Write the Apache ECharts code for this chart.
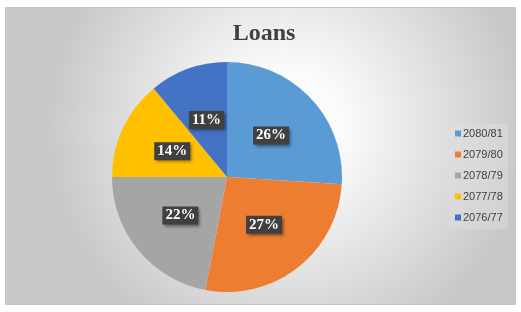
<!DOCTYPE html>
<html>
<head>
<meta charset="utf-8">
<script src="https://cdn.jsdelivr.net/npm/echarts@6/dist/echarts.min.js"></script>
<style>
html,body{margin:0;padding:0;background:#fff;}
#c{width:521px;height:312px;}
</style>
</head>
<body>
<div id="c"></div>
<script>
var categories = ['2080/81', '2079/80', '2078/79', '2077/78', '2076/77'];
var values = [26, 27, 22, 14, 11];
var colors = ['#5B9BD5', '#ED7D31', '#A5A5A5', '#FFC000', '#4472C4'];
var titleText = 'Loans';

var chart = echarts.init(document.getElementById('c'));
chart.setOption({
  animation: false,
  color: colors,
  graphic: [{
    type: 'rect',
    z: -10,
    shape: { x: 5.5, y: 7.5, width: 510, height: 297 },
    style: {
      fill: {
        type: 'radial', x: 0.55, y: 0.4, r: 0.8,
        colorStops: [{ offset: 0, color: '#ffffff' }, { offset: 0.25, color: '#fafafa' }, { offset: 1, color: '#c8c8c8' }]
      },
      stroke: '#c6c6c6', lineWidth: 1
    }
  }, {
    type: 'rect',
    z: -5,
    shape: { x: 449, y: 124, width: 59, height: 105 },
    style: { fill: 'rgba(225,225,225,0.4)' }
  }],
  title: {
    text: titleText,
    left: 259, top: 17, textAlign: 'center',
    textStyle: { fontFamily: 'Liberation Serif', fontWeight: 'bold', fontSize: 24, color: '#404040' }
  },
  legend: {
    orient: 'vertical',
    left: 450, top: 123,
    itemWidth: 6, itemHeight: 6,
    itemGap: 10,
    icon: 'rect',
    data: categories,
    textStyle: { fontFamily: 'Liberation Sans', fontSize: 11, color: '#404040', padding: [0, 0, 0, -3] }
  },
  series: [{
    type: 'pie',
    center: [227, 177],
    radius: [0, 115],
    startAngle: 90,
    clockwise: true,
    data: categories.map(function (c, i) { return { name: c, value: values[i] }; }),
    itemStyle: { borderWidth: 0 },
    label: {
      show: true,
      position: 'inside',
      formatter: function (p) { return p.value + '%'; },
      fontFamily: 'Liberation Serif',
      fontWeight: 'bold',
      fontSize: 15,
      color: '#ffffff',
      backgroundColor: '#404040',
      padding: [2, 3, 1, 3],
      shadowColor: 'rgba(0,0,0,0.45)',
      shadowBlur: 3,
      shadowOffsetX: 2,
      shadowOffsetY: 2
    },
    labelLine: { show: false },
    emphasis: { disabled: true }
  }]
});
</script>
</body>
</html>
